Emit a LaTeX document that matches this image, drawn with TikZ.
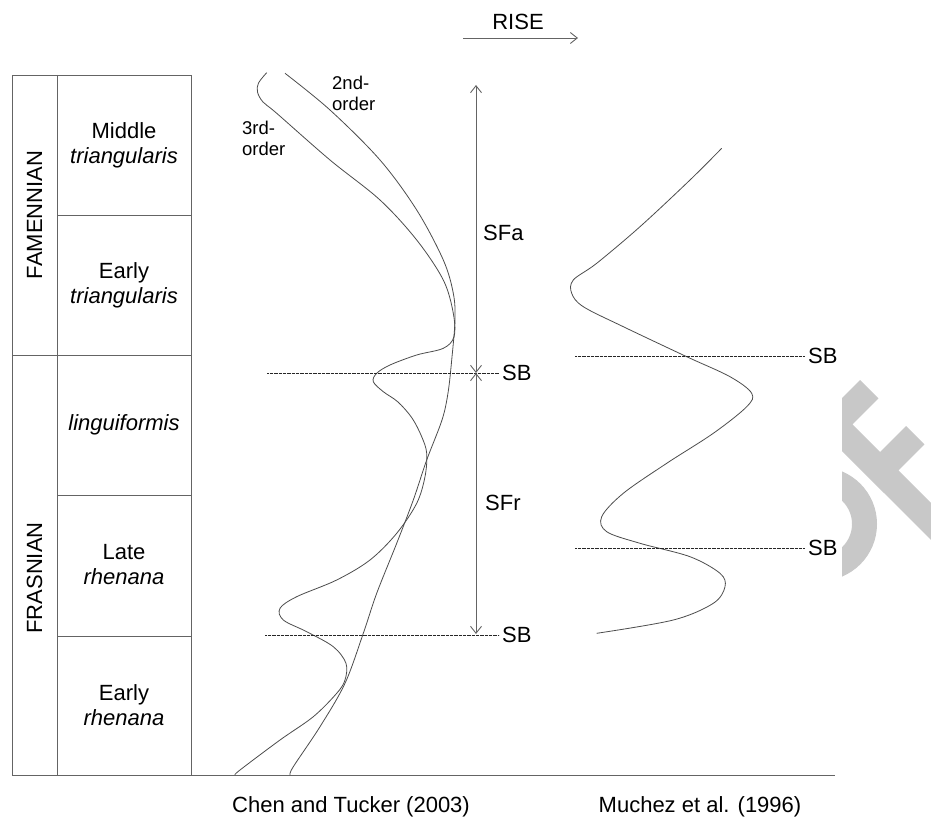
\documentclass[tikz,border=0pt]{standalone}
\usepackage{fontspec}
\setmainfont{Liberation Sans}
\usetikzlibrary{arrows.meta}
\definecolor{wmgray}{RGB}{200,200,200}
\definecolor{lngray}{RGB}{100,100,100}
\begin{document}
\begin{tikzpicture}[x=1pt,y=-1pt,
  every node/.style={font=\fontsize{22}{25}\selectfont, inner sep=0pt, text=black},
  tline/.style={draw=lngray, line width=0.9pt},
  curve/.style={draw=black!70, line width=0.8pt},
  sbline/.style={draw=black!85, line width=1pt, dash pattern=on 0.7pt off 0.6pt},
  arr/.style={draw=lngray, line width=0.9pt, arrows={Straight Barb[length=7pt,width=11pt]-Straight Barb[length=7pt,width=11pt]}},
  smallfont/.style={font=\fontsize{18.5}{20.5}\selectfont, align=left},
  zone/.style={align=center}]
\useasboundingbox (0,0) rectangle (931,818);
% watermark
\begin{scope}
  \clip (842,0) rectangle (931,818);
  \fill[wmgray] (815.4,424.6) -- (860,380) -- (878.4,398.4) -- (852.4,424.4) -- (880,452) -- (906,426) -- (924.4,444.4) -- (898.4,470.4) -- (960,532) -- (960,568.8) -- cycle;
  \fill[wmgray, even odd rule] (820,524) circle[radius=57] (820,524) circle[radius=32];
\end{scope}
% table
\draw[tline] (12,75) rectangle (191,775);
\draw[tline] (57,75) -- (57,775);
\draw[tline] (57,215) -- (191,215);
\draw[tline] (12,355) -- (191,355);
\draw[tline] (57,495) -- (191,495);
\draw[tline] (57,636) -- (191,636);
\node[rotate=90] (fam) at (34.5,215) {FAMENNIAN};
\node[rotate=90] (fra) at (34.5,578) {FRASNIAN};
\node[zone] (z1) at (124,145) {Middle\\\textit{triangularis}};
\node[zone] (z2) at (124,285) {Early\\\textit{triangularis}};
\node[zone] (z3) at (124,425) {\textit{linguiformis}};
\node[zone] (z4) at (124,565) {Late\\\textit{rhenana}};
\node[zone] (z5) at (124,705) {Early\\\textit{rhenana}};
% axis
\draw[tline] (191,775) -- (835,775);
% RISE
\node (rise) at (518,22) {RISE};
\coordinate (riseA) at (463,38);
\coordinate (riseB) at (578,38);
\draw[draw=lngray, line width=0.9pt, -{Straight Barb[length=7pt,width=11pt]}] (riseA) -- (riseB);
% curve labels
\node[smallfont, anchor=north west] (l2) at (332,76) {2nd-\\order};
\node[smallfont, anchor=north west] (l3) at (242,121) {3rd-\\order};
% 3rd-order curve
\draw[curve] plot[smooth, tension=0.55] coordinates {(266.7,72.7) (258.5,83) (257.5,92) (263,102) (276.7,113.3) (330,160) (380,200) (416.7,240) (443.3,280) (453.3,313.3) (454,336.7) (443.3,348.3) (416.7,355) (390,365) (376.7,373.3) (373.3,381.7) (383.3,391.7) (398,402) (412,418) (421.7,436.7) (426.7,453.3) (425,476.7) (416.7,503.3) (396.7,533.3) (370,560) (336.7,580) (296.7,596.7) (280,608.3) (283.3,620) (306.7,631.7) (333.3,646.7) (346,663.3) (345,680) (336.7,693.3) (313.3,716.7) (280,740) (240,770) (235,775)};
% 2nd-order curve
\draw[curve] plot[smooth, tension=0.55] coordinates {(285,73.3) (330,110) (380,160) (416.7,210) (443.3,260) (453.3,293.3) (455,320) (451.7,360) (448,393) (442,420) (426.7,460) (413.3,500) (396.7,543.3) (376.7,593.3) (363.3,633.3) (345,683.3) (320,726.7) (293.3,766.7) (290,775)};
% right curve
\draw[curve] plot[smooth, tension=0.55] coordinates {(721.7,148.3) (690,180) (640,226.7) (596.7,263.3) (573.3,280) (571.7,293.3) (583.3,306.7) (623.3,326.7) (686.7,356.7) (730,376.7) (751.7,393.3) (746.7,406.7) (713.3,433.3) (666.7,463.3) (623.3,493.3) (601.7,516.7) (606.7,531.7) (640,543.3) (690,556.7) (720,573.3) (725,586.7) (713.3,603.3) (673.3,620) (596.7,633.3)};
% SB lines and labels (left)
\node[anchor=west] (sb1) at (502,373) {SB};
\node[anchor=west] (sb2) at (502,635) {SB};
\coordinate (sb1s) at (267,373);
\coordinate (sb2s) at (265,635);
\draw[sbline] (sb1s) -- ([xshift=-3pt]sb1.west);
\draw[sbline] (sb2s) -- ([xshift=-3pt]sb2.west);
% sequence arrows
\coordinate (sfatop) at (476,85);
\coordinate (sbmid) at (476,373);
\coordinate (sfrbot) at (476,634);
\draw[arr] (sbmid) -- (sfatop);
\draw[arr] (sbmid) -- (sfrbot);
\node[anchor=west] (sfa) at (483,233) {SFa};
\node[anchor=west] (sfr) at (485,503) {SFr};
% SB lines and labels (right)
\node[anchor=west] (sb3) at (808,356) {SB};
\node[anchor=west] (sb4) at (808,548) {SB};
\coordinate (sb3s) at (575,356);
\coordinate (sb4s) at (575,548);
\draw[sbline] (sb3s) -- ([xshift=-3pt]sb3.west);
\draw[sbline] (sb4s) -- ([xshift=-3pt]sb4.west);
% bottom labels
\node[anchor=base west] (chen) at (232,812) {Chen and Tucker (2003)};
\node[anchor=base] (muchez) at (700,812) {Muchez et al. (1996)};
\end{tikzpicture}
\end{document}
